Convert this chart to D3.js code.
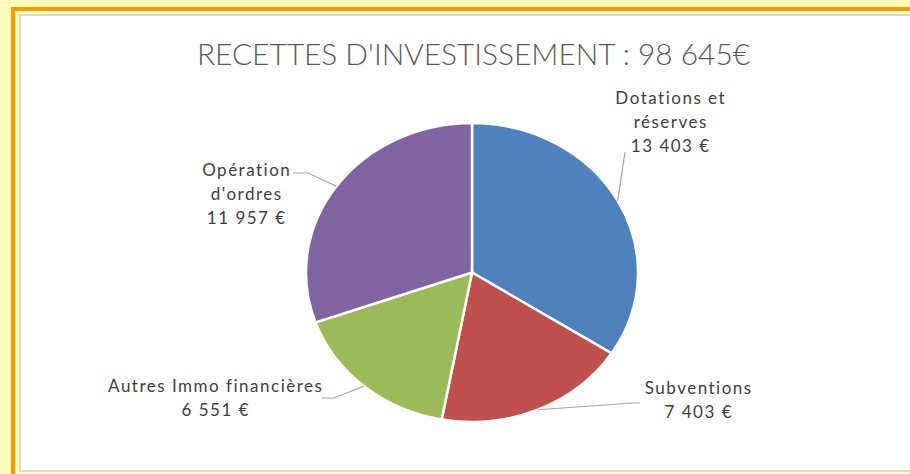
<!DOCTYPE html>
<html><head><meta charset="utf-8">
<script src="https://cdn.jsdelivr.net/npm/d3@7"></script>
<style>html,body{margin:0;padding:0;background:#FFFFB9;}svg{display:block;}</style>
</head><body>
<svg id="c" width="910" height="474"></svg>
<script>
const title = "RECETTES D'INVESTISSEMENT : 98 645€";
const categories = ["Dotations et réserves", "Subventions", "Autres Immo financières", "Opération d'ordres"];
const values = [13403, 7403, 6551, 11957];
const valueLabels = ["13 403 €", "7 403 €", "6 551 €", "11 957 €"];
const labelLines = [["Dotations et", "réserves"], ["Subventions"], ["Autres Immo financières"], ["Opération", "d'ordres"]];
const colors = ["#4F81BD", "#C0504D", "#9BBB59", "#8064A2"];

const svg = d3.select("#c");
// frame
svg.append("rect").attr("x",0).attr("y",0).attr("width",910).attr("height",474).attr("fill","#FFFFB9");
svg.append("rect").attr("x",11).attr("y",7).attr("width",899).attr("height",4).attr("fill","#FF9900");
svg.append("rect").attr("x",11).attr("y",7).attr("width",4).attr("height",467).attr("fill","#FF9900");
svg.append("rect").attr("x",20).attr("y",15).attr("width",900).attr("height",456)
  .attr("fill","#FFFFFF").attr("stroke","#D9D9D9").attr("stroke-width",2);

svg.append("text").attr("x",473.5).attr("y",65).attr("text-anchor","middle")
  .attr("font-family","Lato, 'Open Sans', sans-serif").attr("font-weight",300)
  .attr("font-size",30).attr("fill","#595959")
  .attr("textLength",553).attr("lengthAdjust","spacingAndGlyphs").text(title);

const cx = 472, cy = 272.5, R = 149.5, sx = 166/149.5;
const pie = d3.pie().sort(null).value(d => d)(values);
const arc = d3.arc().innerRadius(0).outerRadius(R);
const g = svg.append("g").attr("transform", `translate(${cx},${cy}) scale(${sx},1)`);
g.selectAll("path").data(pie).join("path")
  .attr("d", arc).attr("fill", (d,i) => colors[i])
  .attr("stroke","#FFFFFF").attr("stroke-width",2.5).attr("vector-effect","non-scaling-stroke");

// label layout (centre x, first line centre y) and leader line end points
const layout = [
  {x:670, y:98, lead:[[625,152]]},
  {x:698, y:388, lead:[[640,403],[633,403]]},
  {x:215, y:386, lead:[[322,398],[334,398]]},
  {x:246, y:170, lead:[[293,173],[308,173]]}
];
const edge = d => {
  const a = (d.startAngle + d.endAngle)/2;
  return [cx + R*Math.sin(a)*sx, cy - R*Math.cos(a)];
};
pie.forEach((d,i) => {
  const L = layout[i];
  const pts = L.lead.concat([edge(d)]);
  svg.append("path").attr("d", d3.line()(pts)).attr("fill","none")
    .attr("stroke","#A6A6A6").attr("stroke-width",1.2);
  const lines = labelLines[i].concat([valueLabels[i]]);
  const t = svg.append("text").attr("text-anchor","middle")
    .attr("font-family","Lato, 'Open Sans', sans-serif").attr("font-size",17)
    .attr("letter-spacing","1.5px").attr("fill","#404040");
  lines.forEach((s,j) => {
    t.append("tspan").attr("x",L.x + 0.75).attr("y",L.y + j*24).attr("dy","0.35em").text(s);
  });
});
</script>
</body></html>
